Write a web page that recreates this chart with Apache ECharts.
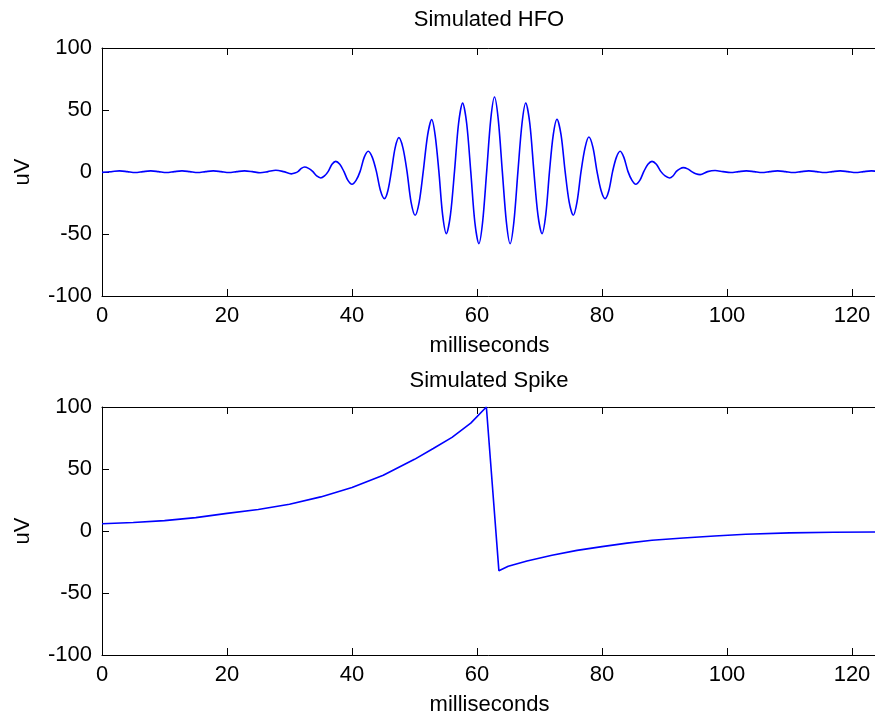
<!DOCTYPE html>
<html>
<head>
<meta charset="utf-8">
<script src="https://cdn.jsdelivr.net/npm/echarts@6/dist/echarts.min.js"></script>
<style>
html,body{margin:0;padding:0;background:#fff;overflow:hidden;}
#chart{width:875px;height:717px;}
</style>
</head>
<body>
<div id="chart"></div>
<script>
// Simulated HFO: times (ms) and values (uV)
var hfoTime = [0, 1.55, 2.8, 4.05, 5.3, 6.55, 7.8, 9.05, 10.3, 11.55, 12.8, 14.05, 15.3, 16.55, 17.8, 19.05,
  20.3, 21.55, 22.8, 24.05, 25.3, 26.55, 27.8, 29.05,
  30.3, 30.85, 31.4, 31.9, 32.4, 33.05, 33.7, 34.35, 35.0, 35.6, 36.2, 36.8, 37.4, 38.05, 38.7, 39.35,
  40.0, 40.65, 41.3, 41.95, 42.6, 43.25, 43.9, 44.55, 45.2, 45.75, 46.3, 46.9, 47.5, 48.15, 48.8, 49.45,
  50.1, 50.75, 51.4, 52.1, 52.75, 53.3, 53.9, 54.5, 55.1, 55.75, 56.4, 57.05, 57.7, 58.35, 59.0, 59.65,
  60.3, 60.9, 61.55, 62.2, 62.8, 63.4, 64.05, 64.7, 65.3, 65.9, 66.55, 67.2, 67.8, 68.45, 69.1, 69.75,
  70.4, 71.0, 71.6, 72.2, 72.8, 73.45, 74.1, 74.75, 75.4, 76.0, 76.65, 77.3, 77.9, 78.55, 79.2, 79.85,
  80.5, 81.1, 81.7, 82.3, 82.9, 83.5, 84.15, 84.8, 85.4, 86.05, 86.7, 87.35, 88.0, 88.7, 89.4, 90.1,
  90.8, 91.35, 91.9, 92.45, 93.0, 93.7, 94.35, 95.0, 95.7, 96.9, 98.1, 99.35,
  100.6, 101.85, 103.1, 104.35, 105.6, 106.85, 108.1, 109.35, 110.6, 111.85, 113.1, 114.35, 115.6, 116.85,
  118.1, 119.35, 120.6, 121.85, 123.1, 124.35];
var hfoValue = [-0.3, 0.3, 0.9, 0.3, -0.4, 0.3, 0.9, 0.3, -0.4, 0.3, 0.9, 0.3, -0.4, 0.3, 0.9, 0.3,
  -0.4, 0.3, 0.9, 0.3, -0.6, 0.3, 1.4, 0.3,
  -1.5, -0.9, 0.5, 2.9, 4.0, 2.9, 0.5, -3.2, -4.8, -3.2, 0.5, 6.2, 8.6, 6.2, 0.5, -6.8,
  -9.9, -6.8, 0.5, 11.8, 16.7, 11.8, 0.5, -14.9, -21.5, -14.9, 0.5, 19.5, 27.7, 19.5, 0.5, -24.3,
  -34.9, -24.3, 0.5, 29.8, 42.3, 29.8, 0.5, -34.6, -49.7, -34.6, 0.5, 39.1, 55.6, 39.1, 0.5, -40.3,
  -57.8, -40.3, 0.5, 42.5, 60.5, 42.5, 0.5, -40.3, -57.8, -40.3, 0.5, 39.1, 55.6, 39.1, 0.5, -34.6,
  -49.7, -34.6, 0.5, 29.9, 42.5, 29.9, 0.5, -24.3, -34.9, -24.3, 0.5, 19.9, 28.2, 19.9, 0.5, -14.9,
  -21.5, -14.9, 0.5, 11.8, 16.7, 11.8, 0.5, -6.8, -9.9, -6.8, 0.5, 6.2, 8.6, 6.2, 0.5, -3.2,
  -4.8, -3.2, 0.5, 2.5, 3.5, 2.5, 0.3, -1.4, -2.1, 0.3, 1.2, 0.3,
  -0.4, 0.3, 0.9, 0.3, -0.4, 0.3, 0.9, 0.3, -0.4, 0.3, 0.9, 0.3, -0.4, 0.3,
  0.9, 0.3, -0.4, 0.3, 0.9, 0.3];

// Simulated Spike
var spikeTime = [0, 5, 10, 15, 20, 25, 30, 35, 40, 45, 50, 53, 56, 59, 61.5, 63.5, 65, 68, 72, 76, 80, 84, 88, 93, 98, 103, 110, 117, 124];
var spikeValue = [5.9, 6.8, 8.4, 10.8, 14.2, 17.3, 21.6, 27.5, 35.0, 45.0, 57.8, 66.5, 75.5, 87, 100, -32, -28.5, -24.2, -19.6, -15.6, -12.6, -9.8, -7.5, -5.6, -4.0, -2.6, -1.5, -1.0, -0.8];

var yTicks = [-100, -50, 0, 50, 100];
var xTicks = [0, 20, 40, 60, 80, 100, 120];

var FONT = "'Liberation Sans', Arial, sans-serif";
var TXT = '#000';
var XMAX = 124;

function pairs(t, v) { return t.map(function (x, i) { return [x, v[i]]; }); }

function xAxes(gi) {
  return [{
    type: 'value', gridIndex: gi, position: 'bottom', min: 0, max: XMAX, interval: 20,
    name: 'milliseconds', nameLocation: 'middle', nameGap: 39,
    nameTextStyle: { fontFamily: FONT, fontSize: 22, color: TXT },
    axisLine: { onZero: false, lineStyle: { color: '#000', width: 1 } },
    axisTick: { inside: true, length: 7, lineStyle: { color: '#000' } },
    axisLabel: { margin: 9, fontFamily: FONT, fontSize: 22, color: TXT,
      formatter: function (v) { return xTicks.indexOf(v) >= 0 ? String(v) : ''; } },
    splitLine: { show: false }
  }, {
    type: 'value', gridIndex: gi, position: 'top', min: 0, max: XMAX, interval: 20,
    axisLine: { onZero: false, lineStyle: { color: '#000', width: 1 } },
    axisTick: { inside: true, length: 7, lineStyle: { color: '#000' } },
    axisLabel: { show: false }, splitLine: { show: false }
  }];
}
function yAxes(gi) {
  return [{
    type: 'value', gridIndex: gi, position: 'left', min: -100, max: 100, interval: 50,
    name: 'uV', nameLocation: 'middle', nameGap: 68,
    nameTextStyle: { fontFamily: FONT, fontSize: 22, color: TXT },
    axisLine: { onZero: false, lineStyle: { color: '#000', width: 1 } },
    axisTick: { inside: true, length: 7, lineStyle: { color: '#000' } },
    axisLabel: { margin: 10, fontFamily: FONT, fontSize: 22, color: TXT,
      formatter: function (v) { return yTicks.indexOf(v) >= 0 ? String(v) : ''; } },
    splitLine: { show: false }
  }];
}

var chart = echarts.init(document.getElementById('chart'), null, { renderer: 'canvas' });
chart.setOption({
  animation: false,
  backgroundColor: '#fff',
  title: [
    { text: 'Simulated HFO', left: 484, top: 4, textAlign: 'center',
      textStyle: { fontFamily: FONT, fontSize: 22, fontWeight: 'normal', color: TXT } },
    { text: 'Simulated Spike', left: 484, top: 365, textAlign: 'center',
      textStyle: { fontFamily: FONT, fontSize: 22, fontWeight: 'normal', color: TXT } }
  ],
  grid: [
    { left: 102, right: -2, top: 48, height: 248, containLabel: false, outerBoundsMode: 'none' },
    { left: 102, right: -2, top: 407, height: 248, containLabel: false, outerBoundsMode: 'none' }
  ],
  xAxis: xAxes(0).concat(xAxes(1)),
  yAxis: yAxes(0).concat(yAxes(1)),
  series: [
    { type: 'line', xAxisIndex: 0, yAxisIndex: 0, data: pairs(hfoTime, hfoValue),
      smooth: 0.3, showSymbol: false, lineStyle: { color: '#0000ff', width: 1.6 } },
    { type: 'line', xAxisIndex: 2, yAxisIndex: 1, data: pairs(spikeTime, spikeValue),
      smooth: false, showSymbol: false, lineStyle: { color: '#0000ff', width: 1.6 } }
  ]
});
</script>
</body>
</html>
